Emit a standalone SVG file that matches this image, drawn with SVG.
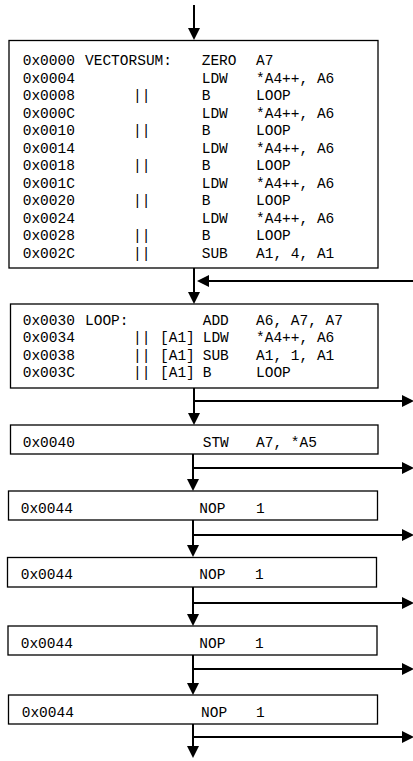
<svg xmlns="http://www.w3.org/2000/svg" width="413" height="761" viewBox="0 0 413 761">
<style>
.box{fill:#fff;stroke:#000;stroke-width:1.3}
text{font-family:"Liberation Mono","DejaVu Sans Mono",monospace;font-size:14.5px;fill:#000}
.c{fill:none;stroke:#000;stroke-width:2}
</style>
<defs>
<marker id="ah" viewBox="0 0 12 12" refX="0" refY="6" markerWidth="12" markerHeight="12" orient="auto" markerUnits="userSpaceOnUse"><path d="M0,0 L12,6 L0,12 z" fill="#000"/></marker>
</defs>
<rect width="413" height="761" fill="#fff"/>
<g id="connectors">
<path class="c" d="M194,5 V28" marker-end="url(#ah)"/>
<path class="c" d="M194,268 V292" marker-end="url(#ah)"/>
<path class="c" d="M413,281 H209" marker-end="url(#ah)"/>
<path class="c" d="M194,388 V413" marker-end="url(#ah)"/>
<path class="c" d="M194,401 H402" marker-end="url(#ah)"/>
<path class="c" d="M193,454 V479" marker-end="url(#ah)"/>
<path class="c" d="M193,468 H402" marker-end="url(#ah)"/>
<path class="c" d="M193,520 V545" marker-end="url(#ah)"/>
<path class="c" d="M193,535 H402" marker-end="url(#ah)"/>
<path class="c" d="M193,587 V614" marker-end="url(#ah)"/>
<path class="c" d="M193,603 H402" marker-end="url(#ah)"/>
<path class="c" d="M193,655 V683" marker-end="url(#ah)"/>
<path class="c" d="M193,669 H402" marker-end="url(#ah)"/>
<path class="c" d="M193,724 V746" marker-end="url(#ah)"/>
<path class="c" d="M193,737 H402" marker-end="url(#ah)"/>
</g>
<g id="vectorsum">
<rect class="box" x="9" y="40.5" width="369" height="227.5"/>
<text x="22.7" y="65">0x0000</text><text x="85" y="65">VECTORSUM:</text><text x="201.7" y="65">ZERO</text><text x="256" y="65">A7</text>
<text x="22.7" y="82.5">0x0004</text><text x="201.7" y="82.5">LDW</text><text x="256" y="82.5">*A4++, A6</text>
<text x="22.7" y="100">0x0008</text><text x="133" y="100">||</text><text x="201.7" y="100">B</text><text x="256" y="100">LOOP</text>
<text x="22.7" y="117.5">0x000C</text><text x="201.7" y="117.5">LDW</text><text x="256" y="117.5">*A4++, A6</text>
<text x="22.7" y="135">0x0010</text><text x="133" y="135">||</text><text x="201.7" y="135">B</text><text x="256" y="135">LOOP</text>
<text x="22.7" y="152.5">0x0014</text><text x="201.7" y="152.5">LDW</text><text x="256" y="152.5">*A4++, A6</text>
<text x="22.7" y="170">0x0018</text><text x="133" y="170">||</text><text x="201.7" y="170">B</text><text x="256" y="170">LOOP</text>
<text x="22.7" y="187.5">0x001C</text><text x="201.7" y="187.5">LDW</text><text x="256" y="187.5">*A4++, A6</text>
<text x="22.7" y="205">0x0020</text><text x="133" y="205">||</text><text x="201.7" y="205">B</text><text x="256" y="205">LOOP</text>
<text x="22.7" y="222.5">0x0024</text><text x="201.7" y="222.5">LDW</text><text x="256" y="222.5">*A4++, A6</text>
<text x="22.7" y="240">0x0028</text><text x="133" y="240">||</text><text x="201.7" y="240">B</text><text x="256" y="240">LOOP</text>
<text x="22.7" y="257.5">0x002C</text><text x="133" y="257.5">||</text><text x="201.7" y="257.5">SUB</text><text x="256" y="257.5">A1, 4, A1</text>
</g>
<g id="loop">
<rect class="box" x="10.5" y="304" width="367.5" height="84"/>
<text x="22.7" y="325">0x0030</text><text x="85" y="325">LOOP:</text><text x="202.7" y="325">ADD</text><text x="256" y="325">A6, A7, A7</text>
<text x="22.7" y="342.3">0x0034</text><text x="133" y="342.3">||</text><text x="160" y="342.3">[A1]</text><text x="202.7" y="342.3">LDW</text><text x="256" y="342.3">*A4++, A6</text>
<text x="22.7" y="359.6">0x0038</text><text x="133" y="359.6">||</text><text x="160" y="359.6">[A1]</text><text x="202.7" y="359.6">SUB</text><text x="256" y="359.6">A1, 1, A1</text>
<text x="22.7" y="377">0x003C</text><text x="133" y="377">||</text><text x="160" y="377">[A1]</text><text x="202.7" y="377">B</text><text x="256" y="377">LOOP</text>
</g>
<g id="stw">
<rect class="box" x="10.5" y="425" width="367.5" height="29"/>
<text x="22.7" y="446.5">0x0040</text><text x="202.7" y="446.5">STW</text><text x="256" y="446.5">A7, *A5</text>
</g>
<g id="nop1">
<rect class="box" x="8.5" y="491" width="369" height="29"/>
<text x="20.7" y="512.5">0x0044</text><text x="199.3" y="512.5">NOP</text><text x="256" y="512.5">1</text>
</g>
<g id="nop2">
<rect class="box" x="7.5" y="557.5" width="369" height="29.5"/>
<text x="20.7" y="579">0x0044</text><text x="199.3" y="579">NOP</text><text x="255" y="579">1</text>
</g>
<g id="nop3">
<rect class="box" x="8" y="626" width="369" height="29"/>
<text x="20.7" y="647.5">0x0044</text><text x="199.3" y="647.5">NOP</text><text x="255" y="647.5">1</text>
</g>
<g id="nop4">
<rect class="box" x="8.5" y="695" width="369" height="29"/>
<text x="21.7" y="716.5">0x0044</text><text x="201" y="716.5">NOP</text><text x="256" y="716.5">1</text>
</g>
</svg>
